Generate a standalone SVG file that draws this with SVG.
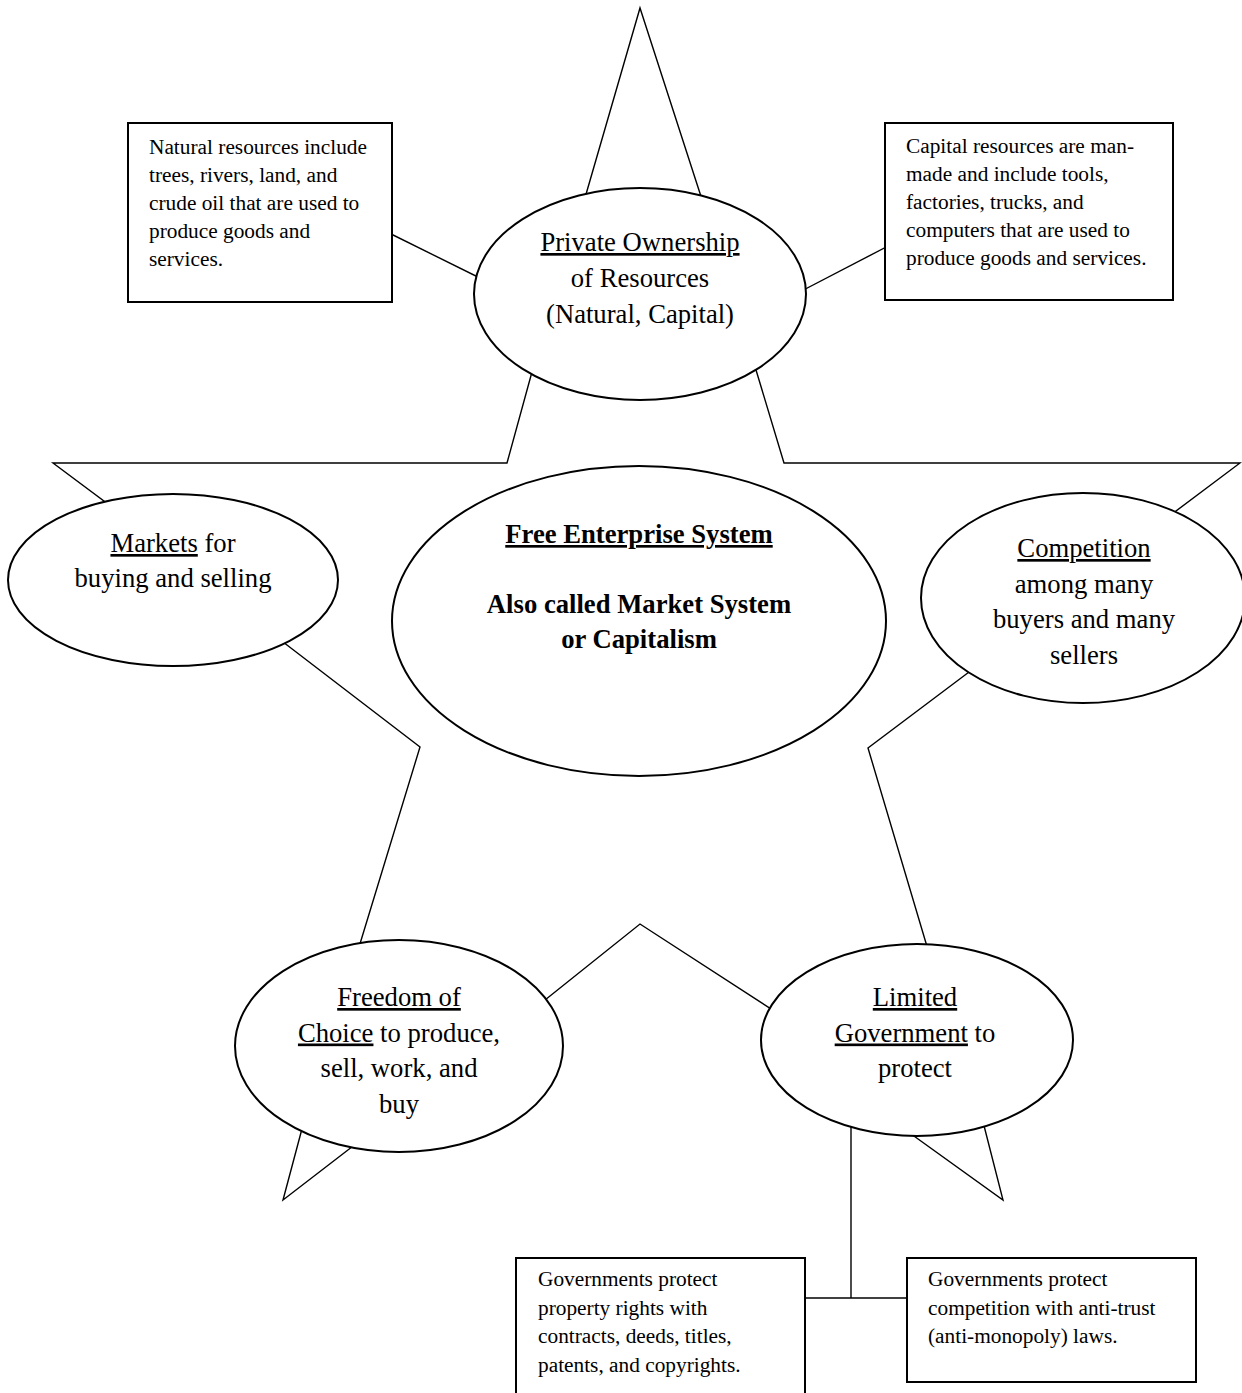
<svg xmlns="http://www.w3.org/2000/svg" width="1242" height="1393" viewBox="0 0 1242 1393">
<style>
.ln{stroke:#000;stroke-width:1.4;fill:none;stroke-linejoin:miter}
.el{fill:#fff;stroke:#000;stroke-width:2}
.bx{fill:#fff;stroke:#000;stroke-width:2}
.t{font-family:"Liberation Serif","Times New Roman",serif;font-size:26.67px;fill:#000;text-anchor:middle}
.b{font-weight:bold}
.s{font-family:"Liberation Serif","Times New Roman",serif;font-size:21.33px;fill:#000}
.u{text-decoration:underline}
</style>
<rect width="1242" height="1393" fill="#fff"/>
<g id="connectors">
<polyline class="ln" points="580,215 640,8 707,215"/>
<polyline class="ln" points="538,350 507,463 53,463 120,513"/>
<polyline class="ln" points="750,350 784,463 1240,463 1160,523"/>
<polyline class="ln" points="270,632 420,747 352,970"/>
<polyline class="ln" points="985,660 868,748 934,970"/>
<polyline class="ln" points="530,1012 640,924 785,1018"/>
<polyline class="ln" points="307,1110 283,1200 370,1133"/>
<polyline class="ln" points="900,1126 1003,1200 980,1110"/>
<line class="ln" x1="385" y1="231" x2="490" y2="283"/>
<line class="ln" x1="790" y1="297" x2="892" y2="244"/>
<line class="ln" x1="851" y1="1120" x2="851" y2="1298"/>
<line class="ln" x1="800" y1="1298" x2="912" y2="1298"/>
</g>
<g id="node-natural">
<rect class="bx" x="128" y="123" width="264" height="179"/>
<text class="s" x="149" y="154">Natural resources include</text>
<text class="s" x="149" y="182">trees, rivers, land, and</text>
<text class="s" x="149" y="210">crude oil that are used to</text>
<text class="s" x="149" y="238">produce goods and</text>
<text class="s" x="149" y="266">services.</text>
</g>
<g id="node-capital">
<rect class="bx" x="885" y="123" width="288" height="177"/>
<text class="s" x="906" y="153">Capital resources are man-</text>
<text class="s" x="906" y="181">made and include tools,</text>
<text class="s" x="906" y="209">factories, trucks, and</text>
<text class="s" x="906" y="237">computers that are used to</text>
<text class="s" x="906" y="265">produce goods and services.</text>
</g>
<g id="node-ownership">
<ellipse class="el" cx="640" cy="294" rx="166" ry="106"/>
<text class="t" x="640" y="251"><tspan class="u">Private Ownership</tspan></text>
<text class="t" x="640" y="287">of Resources</text>
<text class="t" x="640" y="323">(Natural, Capital)</text>
</g>
<g id="node-markets">
<ellipse class="el" cx="173" cy="580" rx="165" ry="86"/>
<text class="t" x="173" y="552"><tspan class="u">Markets</tspan> for</text>
<text class="t" x="173" y="587">buying and selling</text>
</g>
<g id="node-center">
<ellipse class="el" cx="639" cy="621" rx="247" ry="155"/>
<text class="t b" x="639" y="543"><tspan class="u">Free Enterprise System</tspan></text>
<text class="t b" x="639" y="613">Also called Market System</text>
<text class="t b" x="639" y="648">or Capitalism</text>
</g>
<g id="node-competition">
<ellipse class="el" cx="1083" cy="598" rx="162" ry="105"/>
<text class="t" x="1084" y="557"><tspan class="u">Competition</tspan></text>
<text class="t" x="1084" y="592.5">among many</text>
<text class="t" x="1084" y="628">buyers and many</text>
<text class="t" x="1084" y="663.5">sellers</text>
</g>
<g id="node-freedom">
<ellipse class="el" cx="399" cy="1046" rx="164" ry="106"/>
<text class="t" x="399" y="1006"><tspan class="u">Freedom of</tspan></text>
<text class="t" x="399" y="1041.5"><tspan class="u">Choice</tspan> to produce,</text>
<text class="t" x="399" y="1077">sell, work, and</text>
<text class="t" x="399" y="1112.5">buy</text>
</g>
<g id="node-government">
<ellipse class="el" cx="917" cy="1040" rx="156" ry="96"/>
<text class="t" x="915" y="1006"><tspan class="u">Limited</tspan></text>
<text class="t" x="915" y="1041.5"><tspan class="u">Government</tspan> to</text>
<text class="t" x="915" y="1077">protect</text>
</g>
<g id="node-property">
<rect class="bx" x="516" y="1258" width="289" height="145"/>
<text class="s" x="538" y="1286">Governments protect</text>
<text class="s" x="538" y="1314.5">property rights with</text>
<text class="s" x="538" y="1343">contracts, deeds, titles,</text>
<text class="s" x="538" y="1371.5">patents, and copyrights.</text>
</g>
<g id="node-antitrust">
<rect class="bx" x="907" y="1258" width="289" height="124"/>
<text class="s" x="928" y="1286">Governments protect</text>
<text class="s" x="928" y="1314.5">competition with anti-trust</text>
<text class="s" x="928" y="1343">(anti-monopoly) laws.</text>
</g>
</svg>
